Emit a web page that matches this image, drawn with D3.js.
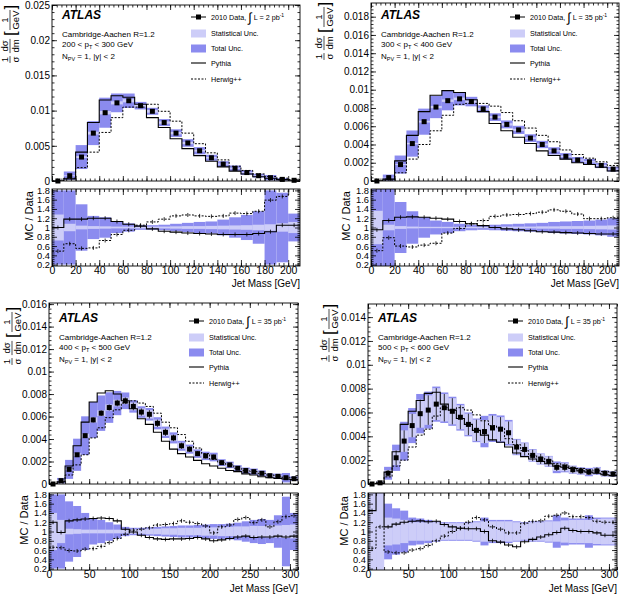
<!DOCTYPE html>
<html>
<head>
<meta charset="utf-8">
<script src="https://cdnjs.cloudflare.com/ajax/libs/d3/7.8.5/d3.min.js"></script>
<style>
  body { margin: 0; background: #fff; }
  svg { display: block; font-family: "Liberation Sans", Arial, sans-serif; }
</style>
</head>
<body>
<svg id="chart" width="628" height="594"></svg>
<script>
// ---- bin edges (jet mass, GeV) ----
const edges210 = [0, 10, 20, 30, 40, 50, 60, 70, 80, 90, 100, 110, 120, 130, 140, 150, 160, 170, 180, 190, 200, 210];
const edges310 = [0, 10, 20, 30, 40, 50, 60, 70, 80, 90, 100, 110, 120, 130, 140, 150, 160, 170, 180, 190, 200,
  210, 220, 230, 240, 250, 260, 270, 280, 290, 300, 310];

// ---- 200 < pT < 300 GeV ----
const dataP1 = [0.0, 0.00075, 0.0034, 0.0068, 0.0097, 0.0111, 0.0114, 0.0107, 0.0099, 0.0083, 0.0068, 0.0054, 0.0043, 0.0033, 0.0024, 0.0018, 0.0012, 0.00075, 0.00047, 0.00023, 0.0001];
const pythiaP1 = [0.0, 0.0003, 0.0041, 0.0083, 0.0115, 0.0121, 0.0119, 0.0109, 0.0090, 0.0076, 0.0060, 0.0046, 0.0036, 0.0028, 0.0020, 0.0014, 0.0010, 0.0006, 0.0004, 0.0002, 0.0001];
const herwigP1 = [0.0, 0.0004, 0.0019, 0.0041, 0.0069, 0.0090, 0.0105, 0.0105, 0.0109, 0.0099, 0.0085, 0.0068, 0.0053, 0.0040, 0.0030, 0.0021, 0.0015, 0.0010, 0.00065, 0.0004, 0.0002];
const ratioPythiaP1 = [1.0, 1.18, 1.18, 1.2, 1.2, 1.13, 1.07, 1.03, 0.97, 0.92, 0.9, 0.88, 0.87, 0.86, 0.85, 0.85, 0.85, 0.87, 0.91, 1.05, 1.05];
const ratioHerwigP1 = [0.49, 0.65, 0.55, 0.56, 0.72, 0.85, 0.94, 1.05, 1.12, 1.18, 1.25, 1.27, 1.25, 1.24, 1.25, 1.31, 1.3, 1.35, 1.59, 1.67, 1.9];
const totUncP1 = [0.8, 0.8, 0.5, 0.25, 0.22, 0.12, 0.09, 0.05, 0.05, 0.06, 0.08, 0.1, 0.12, 0.13, 0.17, 0.22, 0.27, 0.35, 0.8, 0.75, 0.3];
const statUncP1 = [0.28, 0.08, 0.04, 0.03, 0.025, 0.02, 0.02, 0.02, 0.02, 0.02, 0.025, 0.03, 0.03, 0.035, 0.04, 0.045, 0.05, 0.06, 0.07, 0.09, 0.12];

// ---- 300 < pT < 400 GeV ----
const dataP2 = [0.0, 0.00037, 0.0018, 0.0041, 0.0065, 0.0081, 0.0088, 0.0090, 0.0087, 0.0079, 0.0070, 0.0062, 0.0056, 0.0047, 0.0040, 0.0033, 0.0027, 0.0023, 0.0021, 0.0017, 0.0013];
const pythiaP2 = [0.0, 0.0002, 0.0022, 0.0050, 0.0076, 0.0094, 0.0099, 0.0097, 0.0089, 0.0076, 0.0063, 0.0055, 0.0048, 0.0041, 0.0033, 0.0028, 0.0024, 0.0020, 0.0018, 0.0015, 0.0011];
const herwigP2 = [0.0, 0.0001, 0.0009, 0.0024, 0.0040, 0.0055, 0.0072, 0.0084, 0.0085, 0.0085, 0.0082, 0.0075, 0.0066, 0.0058, 0.0050, 0.0043, 0.0034, 0.0029, 0.0025, 0.0021, 0.0017];
const ratioPythiaP2 = [0.95, 1.15, 1.22, 1.23, 1.22, 1.2, 1.18, 1.13, 1.08, 1.04, 1.0, 0.97, 0.95, 0.93, 0.91, 0.9, 0.89, 0.88, 0.87, 0.86, 0.86];
const ratioHerwigP2 = [0.5, 0.78, 0.6, 0.58, 0.62, 0.66, 0.88, 0.98, 1.08, 1.15, 1.24, 1.27, 1.28, 1.3, 1.33, 1.38, 1.35, 1.29, 1.19, 1.19, 1.21];
const totUncP2 = [0.9, 0.9, 0.55, 0.35, 0.22, 0.15, 0.12, 0.08, 0.06, 0.05, 0.06, 0.07, 0.08, 0.09, 0.1, 0.12, 0.13, 0.14, 0.15, 0.17, 0.2];
const statUncP2 = [0.36, 0.06, 0.03, 0.02, 0.015, 0.015, 0.015, 0.015, 0.015, 0.015, 0.015, 0.02, 0.02, 0.02, 0.025, 0.025, 0.03, 0.03, 0.035, 0.04, 0.045];

// ---- 400 < pT < 500 GeV ----
const dataP3 = [0.0, 0.0003, 0.0013, 0.0026, 0.0043, 0.0057, 0.0063, 0.0068, 0.0072, 0.0074, 0.0069, 0.0064, 0.0062, 0.0054, 0.0046, 0.0041, 0.0034, 0.0031, 0.0027, 0.0025, 0.0024,
  0.0019, 0.0017, 0.0014, 0.0012, 0.0011, 0.00095, 0.00074, 0.00068, 0.00056, 0.00047];
const pythiaP3 = [0.0, 0.0002, 0.0016, 0.0034, 0.0055, 0.0073, 0.0081, 0.0083, 0.0080, 0.0074, 0.0067, 0.0058, 0.0053, 0.0046, 0.0038, 0.0031, 0.0027, 0.0024, 0.0021, 0.0018, 0.0016,
  0.0014, 0.0012, 0.0011, 0.0009, 0.0008, 0.00065, 0.00056, 0.0005, 0.00045, 0.0004];
const herwigP3 = [0.0, 0.0001, 0.0008, 0.0017, 0.0026, 0.0041, 0.0050, 0.0059, 0.0066, 0.0072, 0.0074, 0.0072, 0.0069, 0.0063, 0.0055, 0.0050, 0.0044, 0.0038, 0.0032, 0.0027, 0.0022,
  0.0019, 0.0017, 0.0014, 0.0012, 0.0011, 0.00095, 0.0008, 0.0007, 0.0006, 0.00056];
const ratioPythiaP3 = [1.2, 0.98, 1.23, 1.25, 1.27, 1.28, 1.29, 1.28, 1.23, 1.05, 0.99, 0.92, 0.87, 0.84, 0.83, 0.84, 0.84, 0.85, 0.87, 0.84, 0.8,
  0.82, 0.85, 0.88, 0.9, 0.87, 0.88, 0.88, 0.9, 0.88, 0.9];
const ratioHerwigP3 = [0.66, 0.65, 0.59, 0.58, 0.62, 0.63, 0.68, 0.76, 0.85, 0.94, 1.03, 1.05, 1.08, 1.14, 1.15, 1.17, 1.23, 1.2, 1.17, 1.12, 0.97,
  1.1, 1.14, 1.26, 1.3, 1.19, 1.25, 1.1, 1.21, 1.32, 1.34];
const totUncP3 = [0.8, 0.8, 0.65, 0.55, 0.4, 0.28, 0.25, 0.2, 0.15, 0.1, 0.08, 0.08, 0.09, 0.1, 0.11, 0.12, 0.13, 0.13, 0.14, 0.15, 0.16,
  0.16, 0.17, 0.19, 0.22, 0.25, 0.27, 0.25, 0.35, 0.75, 0.4];
const statUncP3 = [0.4, 0.25, 0.06, 0.05, 0.04, 0.04, 0.04, 0.04, 0.04, 0.04, 0.05, 0.05, 0.06, 0.06, 0.07, 0.07, 0.08, 0.08, 0.08, 0.09, 0.09,
  0.1, 0.1, 0.11, 0.11, 0.12, 0.12, 0.13, 0.13, 0.14, 0.15];

// ---- 500 < pT < 600 GeV ----
const dataP4 = [0.0, 0.0001, 0.0009, 0.0022, 0.0036, 0.0049, 0.0059, 0.0062, 0.0067, 0.0064, 0.0061, 0.0056, 0.0050, 0.0045, 0.0044, 0.0047, 0.0046, 0.0043, 0.0031, 0.0029, 0.0024,
  0.0021, 0.0019, 0.0014, 0.0014, 0.0012, 0.0011, 0.0010, 0.0011, 0.0009, 0.00084];
const pythiaP4 = [0.0, 0.00005, 0.0010, 0.0027, 0.0050, 0.0061, 0.0070, 0.0076, 0.0077, 0.0067, 0.0062, 0.0055, 0.0050, 0.0045, 0.0041, 0.0037, 0.0035, 0.0031, 0.0026, 0.0023, 0.0021,
  0.0019, 0.0017, 0.0015, 0.0014, 0.0013, 0.0011, 0.0010, 0.0009, 0.00078, 0.0007];
const herwigP4 = [0.0, 0.0001, 0.0006, 0.0015, 0.0020, 0.0031, 0.0041, 0.0046, 0.0057, 0.0064, 0.0062, 0.0064, 0.0062, 0.0058, 0.0053, 0.0049, 0.0047, 0.0038, 0.0033, 0.0028, 0.0024,
  0.0022, 0.0020, 0.0017, 0.0016, 0.0014, 0.0013, 0.0012, 0.0011, 0.00104, 0.00096];
const ratioPythiaP4 = [1.45, 2.5, 1.1, 1.16, 1.2, 1.22, 1.23, 1.21, 1.22, 1.15, 1.1, 1.07, 1.06, 1.06, 1.0, 0.8, 0.77, 0.71, 0.67, 0.78, 0.83,
  0.88, 0.93, 0.98, 1.07, 1.02, 1.0, 1.0, 0.97, 0.92, 0.92];
const ratioHerwigP4 = [0.64, 1.1, 0.56, 0.54, 0.54, 0.6, 0.63, 0.7, 0.8, 0.9, 1.0, 1.07, 1.2, 1.3, 1.25, 1.1, 1.05, 0.97, 0.97, 1.18, 1.22,
  1.23, 1.33, 1.35, 1.4, 1.32, 1.32, 1.3, 1.22, 1.2, 1.2];
const totUncP4 = [0.9, 0.9, 0.6, 0.5, 0.45, 0.3, 0.28, 0.25, 0.22, 0.2, 0.2, 0.2, 0.2, 0.22, 0.3, 0.25, 0.25, 0.25, 0.22, 0.2, 0.22,
  0.22, 0.24, 0.35, 0.3, 0.28, 0.28, 0.35, 0.3, 0.3, 0.3];
const statUncP4 = [0.9, 0.9, 0.3, 0.28, 0.25, 0.2, 0.2, 0.2, 0.2, 0.18, 0.18, 0.18, 0.18, 0.2, 0.22, 0.22, 0.22, 0.22, 0.2, 0.18, 0.2,
  0.2, 0.22, 0.22, 0.24, 0.25, 0.25, 0.25, 0.27, 0.28, 0.28];

// ---- tick labels ----
const yTicksP1 = [0, 0.005, 0.01, 0.015, 0.02, 0.025];
const yTicksP2 = [0, 0.002, 0.004, 0.006, 0.008, 0.01, 0.012, 0.014, 0.016, 0.018];
const yTicksP3 = [0, 0.002, 0.004, 0.006, 0.008, 0.01, 0.012, 0.014, 0.016];
const yTicksP4 = [0, 0.002, 0.004, 0.006, 0.008, 0.01, 0.012, 0.014];
const ratioTicks = [0.2, 0.4, 0.6, 0.8, 1, 1.2, 1.4, 1.6, 1.8];
const xTicks210 = [0, 20, 40, 60, 80, 100, 120, 140, 160, 180, 200];
const xTicks310 = [0, 50, 100, 150, 200, 250, 300];

// ---- text ----
const ptLow = ["200", "300", "400", "500"];
const ptHigh = ["300", "400", "500", "600"];
const lumi = ["2", "35", "35", "35"];

const TOTAL_COLOR = "#8b8bef";
const STAT_COLOR = "#cdcdf8";
const RATIO_MIN = 0.17, RATIO_MAX = 1.83;

const svg = d3.select("#chart");
const fmt = d => d === 0 ? "0" : d3.format("~g")(d);

// panel layout: frame edges in px
const panels = [
  { edges: edges210, data: dataP1, py: pythiaP1, hw: herwigP1, rpy: ratioPythiaP1, rhw: ratioHerwigP1, tot: totUncP1, stat: statUncP1,
    yMax: 0.025, yTicks: yTicksP1, yMinor: 0.001, xTicks: xTicks210, xMinor: 4,
    x0: 52, x1: 300, m0: 5, m1: 181, r0: 189, r1: 266, titleX: 10, titleY: 63, mcX: 29, mcY: 216,
    textY: 3, legY: 17, axisLabY: 287 },
  { edges: edges210, data: dataP2, py: pythiaP2, hw: herwigP2, rpy: ratioPythiaP2, rhw: ratioHerwigP2, tot: totUncP2, stat: statUncP2,
    yMax: 0.0195, yTicks: yTicksP2, yMinor: 0.0004, xTicks: xTicks210, xMinor: 4,
    x0: 371, x1: 619, m0: 3, m1: 181, r0: 189, r1: 266, titleX: 324, titleY: 60, mcX: 346, mcY: 216,
    textY: 3, legY: 17, axisLabY: 287 },
  { edges: edges310, data: dataP3, py: pythiaP3, hw: herwigP3, rpy: ratioPythiaP3, rhw: ratioHerwigP3, tot: totUncP3, stat: statUncP3,
    yMax: 0.0161, yTicks: yTicksP3, yMinor: 0.0004, xTicks: xTicks310, xMinor: 10,
    x0: 49, x1: 298, m0: 303, m1: 484, r0: 493, r1: 570, titleX: 12, titleY: 365, mcX: 24, mcY: 520,
    textY: 306, legY: 321, axisLabY: 592 },
  { edges: edges310, data: dataP4, py: pythiaP4, hw: herwigP4, rpy: ratioPythiaP4, rhw: ratioHerwigP4, tot: totUncP4, stat: statUncP4,
    yMax: 0.0151, yTicks: yTicksP4, yMinor: 0.0004, xTicks: xTicks310, xMinor: 10,
    x0: 368, x1: 617, m0: 304, m1: 484, r0: 493, r1: 570, titleX: 329, titleY: 362, mcX: 344, mcY: 521,
    textY: 306, legY: 321, axisLabY: 592 }
];

function stepPath(edges, vals, x, y) {
  const pts = vals.map((v, i) => [edges[i], v]);
  pts.push([edges[edges.length - 1], vals[vals.length - 1]]);
  return d3.line().x(d => x(d[0])).y(d => y(d[1])).curve(d3.curveStepAfter)(pts);
}

// ticks pointing into the frame
function ticks(g, axisFn, scale, values, size, transform, labels, fontSize, pad) {
  const ax = axisFn(scale).tickValues(values).tickSizeInner(-size).tickSizeOuter(0)
    .tickPadding(labels ? (pad === undefined ? 2 : pad) : 0).tickFormat(labels ? fmt : () => "");
  const sel = g.append("g").attr("transform", transform).call(ax);
  sel.select(".domain").remove();
  sel.attr("font-family", null).attr("font-size", fontSize || 10);
  sel.selectAll("line").attr("stroke", "#000").attr("stroke-width", 0.8);
  sel.selectAll("text").attr("fill", "#000");
  return sel;
}

function range(lo, hi, step) {
  const out = [];
  for (let v = lo; v <= hi + 1e-9; v += step) out.push(+v.toFixed(6));
  return out;
}

function fraction(g, cx, num, den, fs) {
  const n = g.append("text").attr("x", cx).attr("y", -2.2).attr("text-anchor", "middle").attr("font-size", fs).text(num);
  const d = g.append("text").attr("x", cx).attr("y", fs * 0.95).attr("text-anchor", "middle").attr("font-size", fs).text(den);
  const w = Math.max(n.node().getComputedTextLength(), d.node().getComputedTextLength()) + 1;
  g.append("line").attr("x1", cx - w / 2).attr("x2", cx + w / 2).attr("y1", 0).attr("y2", 0)
    .attr("stroke", "#000").attr("stroke-width", 0.7);
}

function yTitle(p) {
  const g = svg.append("g").attr("transform", `translate(${p.titleX},${p.titleY}) rotate(-90)`);
  fraction(g, 3.5, "1", "σ", 9.5);
  fraction(g, 17, "dσ", "dm", 9.5);
  g.append("text").attr("x", 27).attr("y", 6).attr("font-size", 17).text("[");
  fraction(g, 43, "1", "GeV", 9.5);
  g.append("text").attr("x", 53.5).attr("y", 6).attr("font-size", 17).text("]");
}

function drawPanel(p, k) {
  const x = d3.scaleLinear().domain([p.edges[0], p.edges[p.edges.length - 1]]).range([p.x0, p.x1]);
  const y = d3.scaleLinear().domain([0, p.yMax]).range([p.m1, p.m0]);
  const r = d3.scaleLinear().domain([RATIO_MIN, RATIO_MAX]).range([p.r1, p.r0]);
  const bins = p.data.map((d, i) => ({ lo: p.edges[i], hi: p.edges[i + 1], d, tot: p.tot[i], stat: p.stat[i] }));

  const defs = svg.append("defs");
  defs.append("clipPath").attr("id", "cm" + k).append("rect")
    .attr("x", p.x0).attr("y", p.m0).attr("width", p.x1 - p.x0).attr("height", p.m1 - p.m0);
  defs.append("clipPath").attr("id", "cr" + k).append("rect")
    .attr("x", p.x0).attr("y", p.r0).attr("width", p.x1 - p.x0).attr("height", p.r1 - p.r0);

  // ---------- main plot ----------
  const main = svg.append("g").attr("clip-path", `url(#cm${k})`);
  main.selectAll(".tot").data(bins).join("rect")
    .attr("x", b => x(b.lo)).attr("width", b => x(b.hi) - x(b.lo))
    .attr("y", b => y(b.d * (1 + b.tot))).attr("height", b => y(b.d * (1 - b.tot)) - y(b.d * (1 + b.tot)))
    .attr("fill", TOTAL_COLOR);
  main.selectAll(".stat").data(bins).join("rect")
    .attr("x", b => x(b.lo)).attr("width", b => x(b.hi) - x(b.lo))
    .attr("y", b => y(b.d * (1 + b.stat))).attr("height", b => y(b.d * (1 - b.stat)) - y(b.d * (1 + b.stat)))
    .attr("fill", STAT_COLOR);
  main.append("path").attr("d", stepPath(p.edges, p.py, x, y))
    .attr("fill", "none").attr("stroke", "#000").attr("stroke-width", 1.1);
  main.append("path").attr("d", stepPath(p.edges, p.hw, x, y))
    .attr("fill", "none").attr("stroke", "#000").attr("stroke-width", 1).attr("stroke-dasharray", "2,1.5");

  const pts = svg.append("g");
  pts.selectAll("line").data(bins).join("line")
    .attr("x1", b => x((b.lo + b.hi) / 2)).attr("x2", b => x((b.lo + b.hi) / 2))
    .attr("y1", b => y(b.d * (1 + b.stat))).attr("y2", b => y(b.d * (1 - b.stat)))
    .attr("stroke", "#000").attr("stroke-width", 0.8);
  pts.selectAll("rect").data(bins).join("rect")
    .attr("x", b => x((b.lo + b.hi) / 2) - 2.5).attr("y", b => y(b.d) - 2.5)
    .attr("width", 5).attr("height", 5).attr("fill", "#000");

  svg.append("rect").attr("x", p.x0).attr("y", p.m0).attr("width", p.x1 - p.x0).attr("height", p.m1 - p.m0)
    .attr("fill", "none").attr("stroke", "#000").attr("stroke-width", 0.9);

  const ax = svg.append("g");
  ticks(ax, d3.axisLeft, y, p.yTicks, 5, `translate(${p.x0},0)`, true);
  ticks(ax, d3.axisLeft, y, range(0, p.yMax, p.yMinor), 2.5, `translate(${p.x0},0)`, false);
  ticks(ax, d3.axisRight, y, p.yTicks, 5, `translate(${p.x1},0)`, false);
  ticks(ax, d3.axisRight, y, range(0, p.yMax, p.yMinor), 2.5, `translate(${p.x1},0)`, false);
  const xMax = p.edges[p.edges.length - 1];
  ticks(ax, d3.axisBottom, x, p.xTicks, 5, `translate(0,${p.m1})`, false);
  ticks(ax, d3.axisBottom, x, range(0, xMax, p.xMinor), 2.5, `translate(0,${p.m1})`, false);
  ticks(ax, d3.axisTop, x, p.xTicks, 5, `translate(0,${p.m0})`, false);
  ticks(ax, d3.axisTop, x, range(0, xMax, p.xMinor), 2.5, `translate(0,${p.m0})`, false);

  // ---------- ratio plot ----------
  const rat = svg.append("g").attr("clip-path", `url(#cr${k})`);
  rat.selectAll(".tot").data(bins).join("rect")
    .attr("x", b => x(b.lo)).attr("width", b => x(b.hi) - x(b.lo))
    .attr("y", b => r(1 + b.tot)).attr("height", b => r(1 - b.tot) - r(1 + b.tot))
    .attr("fill", TOTAL_COLOR);
  rat.selectAll(".stat").data(bins).join("rect")
    .attr("x", b => x(b.lo)).attr("width", b => x(b.hi) - x(b.lo))
    .attr("y", b => r(1 + b.stat)).attr("height", b => r(1 - b.stat) - r(1 + b.stat))
    .attr("fill", STAT_COLOR);
  rat.append("path").attr("d", stepPath(p.edges, p.rpy, x, r))
    .attr("fill", "none").attr("stroke", "#000").attr("stroke-width", 1.1);
  rat.append("path").attr("d", stepPath(p.edges, p.rhw, x, r))
    .attr("fill", "none").attr("stroke", "#000").attr("stroke-width", 1).attr("stroke-dasharray", "2,1.5");
  [p.rpy, p.rhw].forEach(vals => {
    rat.append("g").selectAll("line").data(vals).join("line")
      .attr("x1", (v, i) => x((p.edges[i] + p.edges[i + 1]) / 2))
      .attr("x2", (v, i) => x((p.edges[i] + p.edges[i + 1]) / 2))
      .attr("y1", v => r(v) - 2).attr("y2", v => r(v) + 2)
      .attr("stroke", "#000").attr("stroke-width", 0.8);
  });

  svg.append("rect").attr("x", p.x0).attr("y", p.r0).attr("width", p.x1 - p.x0).attr("height", p.r1 - p.r0)
    .attr("fill", "none").attr("stroke", "#000").attr("stroke-width", 0.9);

  const rax = svg.append("g");
  ticks(rax, d3.axisLeft, r, ratioTicks, 5, `translate(${p.x0},0)`, true, 9.3);
  ticks(rax, d3.axisLeft, r, range(0.2, 1.8, 0.04), 2.5, `translate(${p.x0},0)`, false);
  ticks(rax, d3.axisRight, r, ratioTicks, 5, `translate(${p.x1},0)`, false);
  ticks(rax, d3.axisRight, r, range(0.2, 1.8, 0.04), 2.5, `translate(${p.x1},0)`, false);
  ticks(rax, d3.axisBottom, x, p.xTicks, 6, `translate(0,${p.r1})`, true, 10.5, 1);
  ticks(rax, d3.axisBottom, x, range(0, xMax, p.xMinor), 3, `translate(0,${p.r1})`, false);
  ticks(rax, d3.axisTop, x, p.xTicks, 6, `translate(0,${p.r0})`, false);
  ticks(rax, d3.axisTop, x, range(0, xMax, p.xMinor), 3, `translate(0,${p.r0})`, false);

  // axis titles
  yTitle(p);
  svg.append("text").attr("transform", `translate(${p.mcX},${p.mcY}) rotate(-90)`)
    .attr("text-anchor", "middle").attr("dy", "0.35em").attr("font-size", 11).text("MC / Data");
  svg.append("text").attr("x", p.x1).attr("y", p.axisLabY).attr("text-anchor", "end")
    .attr("font-size", 10).text("Jet Mass [GeV]");

  // ---------- labels ----------
  const tx = p.x0 + 10;
  svg.append("text").attr("x", tx).attr("y", p.textY + 16).attr("font-size", 12)
    .attr("font-weight", "bold").attr("font-style", "italic").text("ATLAS");
  svg.append("text").attr("x", tx).attr("y", p.textY + 33.5).attr("font-size", 8).text("Cambridge-Aachen R=1.2");
  const pt = svg.append("text").attr("x", tx).attr("y", p.textY + 44).attr("font-size", 8);
  pt.append("tspan").text(`${ptLow[k]} < p`);
  pt.append("tspan").attr("font-size", 5.5).attr("dy", 2).text("T");
  pt.append("tspan").attr("dy", -2).text(` < ${ptHigh[k]} GeV`);
  const npv = svg.append("text").attr("x", tx).attr("y", p.textY + 56).attr("font-size", 8);
  npv.append("tspan").text("N");
  npv.append("tspan").attr("font-size", 5.5).attr("dy", 2).text("PV");
  npv.append("tspan").attr("dy", -2).text(" = 1, |y| < 2");

  // ---------- legend ----------
  const lx0 = p.x1 - 109, lx1 = p.x1 - 94, ltx = p.x1 - 89;
  const rows = [0, 16.5, 31.5, 46, 62].map(d => p.legY + d);
  const leg = svg.append("g").attr("font-size", 7.2);
  leg.append("line").attr("x1", lx0).attr("x2", lx1).attr("y1", rows[0]).attr("y2", rows[0])
    .attr("stroke", "#000").attr("stroke-width", 1);
  leg.append("rect").attr("x", (lx0 + lx1) / 2 - 2.5).attr("y", rows[0] - 2.5).attr("width", 5).attr("height", 5).attr("fill", "#000");
  const dl = leg.append("text").attr("x", ltx).attr("y", rows[0] + 2.5);
  dl.append("tspan").text("2010 Data, ");
  dl.append("tspan").attr("font-size", 13).attr("dy", 2).text("∫");
  dl.append("tspan").attr("dy", -2).text(` L = ${lumi[k]} pb`);
  dl.append("tspan").attr("font-size", 5).attr("dy", -3).text("-1");
  leg.append("rect").attr("x", lx0).attr("y", rows[1] - 4).attr("width", lx1 - lx0).attr("height", 8).attr("fill", STAT_COLOR);
  leg.append("text").attr("x", ltx).attr("y", rows[1] + 2.5).text("Statistical Unc.");
  leg.append("rect").attr("x", lx0).attr("y", rows[2] - 4).attr("width", lx1 - lx0).attr("height", 8).attr("fill", TOTAL_COLOR);
  leg.append("text").attr("x", ltx).attr("y", rows[2] + 2.5).text("Total Unc.");
  leg.append("line").attr("x1", lx0).attr("x2", lx1).attr("y1", rows[3]).attr("y2", rows[3])
    .attr("stroke", "#000").attr("stroke-width", 1.1);
  leg.append("text").attr("x", ltx).attr("y", rows[3] + 2.5).text("Pythia");
  leg.append("line").attr("x1", lx0).attr("x2", lx1).attr("y1", rows[4]).attr("y2", rows[4])
    .attr("stroke", "#000").attr("stroke-width", 1).attr("stroke-dasharray", "2,1.5");
  leg.append("text").attr("x", ltx).attr("y", rows[4] + 2.5).text("Herwig++");
}

panels.forEach(drawPanel);
</script>
</body>
</html>
